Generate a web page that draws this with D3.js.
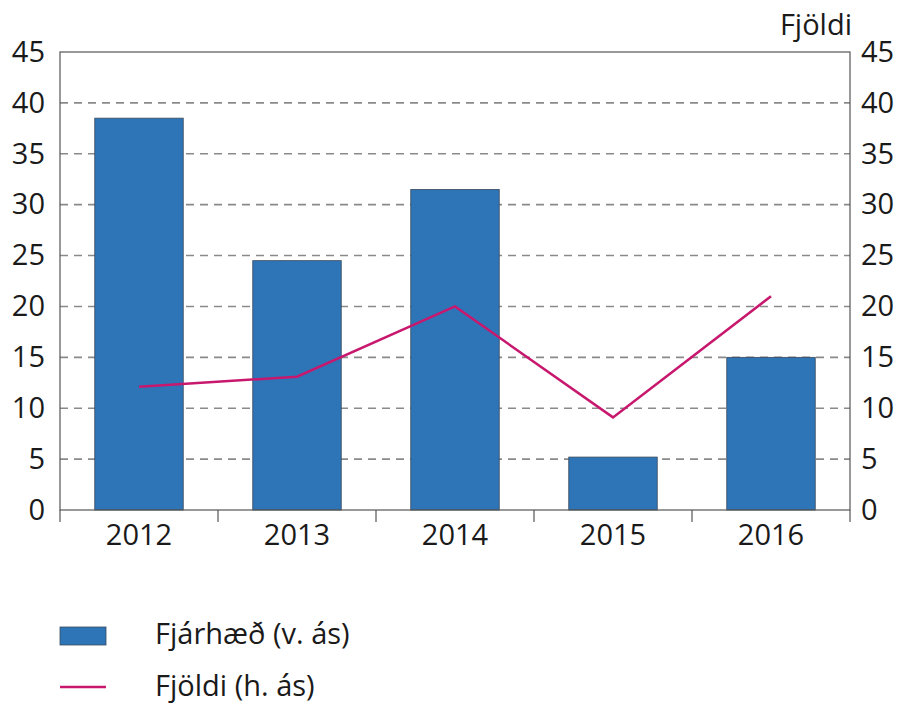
<!DOCTYPE html>
<html>
<head>
<meta charset="utf-8">
<script src="https://cdn.jsdelivr.net/npm/d3@7"></script>
<style>
  body { margin: 0; background: #fff; }
  text { font-family: 'Open Sans', 'Noto Sans', sans-serif; fill: #1a1a1a; }
</style>
</head>
<body>
<div id="chart"></div>
<script>
// Data
var years = ['2012', '2013', '2014', '2015', '2016'];
var amount = [38.5, 24.5, 31.5, 5.2, 15];   // Fjárhæð, left axis
var count = [12.1, 13.1, 20, 9.1, 21];      // Fjöldi, right axis
var yTicks = [0, 5, 10, 15, 20, 25, 30, 35, 40, 45];

var width = 902, height = 703;
var margins = {left: 60, right: 52, top: 52, bottom: 193};
var w = width - margins.left - margins.right;
var h = height - margins.top - margins.bottom;
var fontSize = 29;

var svg = d3.select('#chart').append('svg')
            .attr('width', width)
            .attr('height', height);

var g = svg.append('g')
           .attr('transform', 'translate(' + margins.left + ',' + margins.top + ')');

var x = d3.scaleBand().domain(years).range([0, w]).paddingInner(0.44).paddingOuter(0.22);
var xOuter = d3.scaleBand().domain(years).range([0, w]);
var yLeft = d3.scaleLinear().domain([0, 45]).range([h, 0]);
var yRight = d3.scaleLinear().domain([0, 45]).range([h, 0]);

// dashed gridlines
g.append('g').selectAll('line')
 .data(yTicks.filter(function(d) { return d > 0 && d < 45; }))
 .enter().append('line')
 .attr('x1', 0).attr('x2', w)
 .attr('y1', function(d) { return yLeft(d); })
 .attr('y2', function(d) { return yLeft(d); })
 .attr('stroke', '#8a8a8a')
 .attr('stroke-width', 1.6)
 .attr('stroke-dasharray', '8,6');

// bars
g.append('g').selectAll('rect')
 .data(amount)
 .enter().append('rect')
 .attr('x', function(d, i) { return x(years[i]); })
 .attr('y', function(d) { return yLeft(d); })
 .attr('width', x.bandwidth())
 .attr('height', function(d) { return h - yLeft(d); })
 .attr('fill', '#2e75b8')
 .attr('stroke', '#3a4a5a')
 .attr('stroke-width', 0.8);

// line
var line = d3.line()
             .x(function(d, i) { return xOuter(years[i]) + xOuter.bandwidth() / 2; })
             .y(function(d) { return yRight(d); });
g.append('path')
 .datum(count)
 .attr('d', line)
 .attr('fill', 'none')
 .attr('stroke', '#c8186e')
 .attr('stroke-width', 2.5);

// frame
g.append('rect')
 .attr('x', 0).attr('y', 0).attr('width', w).attr('height', h)
 .attr('fill', 'none')
 .attr('stroke', '#555')
 .attr('stroke-width', 1.2);

// left axis
var leftAxis = g.append('g')
                .call(d3.axisLeft(yLeft).tickValues(yTicks).tickSize(0).tickPadding(15));
leftAxis.select('.domain').remove();
leftAxis.selectAll('text').attr('font-size', fontSize).attr('fill', '#1a1a1a')
        .style('font-family', "'Open Sans', 'Noto Sans', sans-serif");

// right axis
var rightAxis = g.append('g')
                 .attr('transform', 'translate(' + w + ',0)')
                 .call(d3.axisRight(yRight).tickValues(yTicks).tickSize(0).tickPadding(11));
rightAxis.select('.domain').remove();
rightAxis.selectAll('text').attr('font-size', fontSize).attr('fill', '#1a1a1a')
         .style('font-family', "'Open Sans', 'Noto Sans', sans-serif");

// bottom axis: ticks at category boundaries
var bounds = years.map(function(d) { return xOuter(d); }).concat([w]);
g.append('g').selectAll('line')
 .data(bounds)
 .enter().append('line')
 .attr('x1', function(d) { return d; }).attr('x2', function(d) { return d; })
 .attr('y1', h).attr('y2', h + 12)
 .attr('stroke', '#555')
 .attr('stroke-width', 1.2);

g.append('g').selectAll('text')
 .data(years)
 .enter().append('text')
 .attr('x', function(d) { return xOuter(d) + xOuter.bandwidth() / 2; })
 .attr('y', h + 35)
 .attr('text-anchor', 'middle')
 .attr('font-size', fontSize)
 .text(function(d) { return d; });

// right axis title
svg.append('text')
   .attr('x', 852).attr('y', 35)
   .attr('text-anchor', 'end')
   .attr('font-size', fontSize)
   .text('Fjöldi');

// legend
var legend = svg.append('g');
legend.append('rect')
      .attr('x', 60).attr('y', 627).attr('width', 46).attr('height', 18)
      .attr('fill', '#2e75b8')
      .attr('stroke', '#3a4a5a').attr('stroke-width', 0.8);
legend.append('text')
      .attr('x', 155).attr('y', 644)
      .attr('font-size', fontSize)
      .text('Fjárhæð (v. ás)');
legend.append('line')
      .attr('x1', 60).attr('x2', 106).attr('y1', 687).attr('y2', 687)
      .attr('stroke', '#c8186e').attr('stroke-width', 2.5);
legend.append('text')
      .attr('x', 155).attr('y', 696)
      .attr('font-size', fontSize)
      .text('Fjöldi (h. ás)');
</script>
</body>
</html>
